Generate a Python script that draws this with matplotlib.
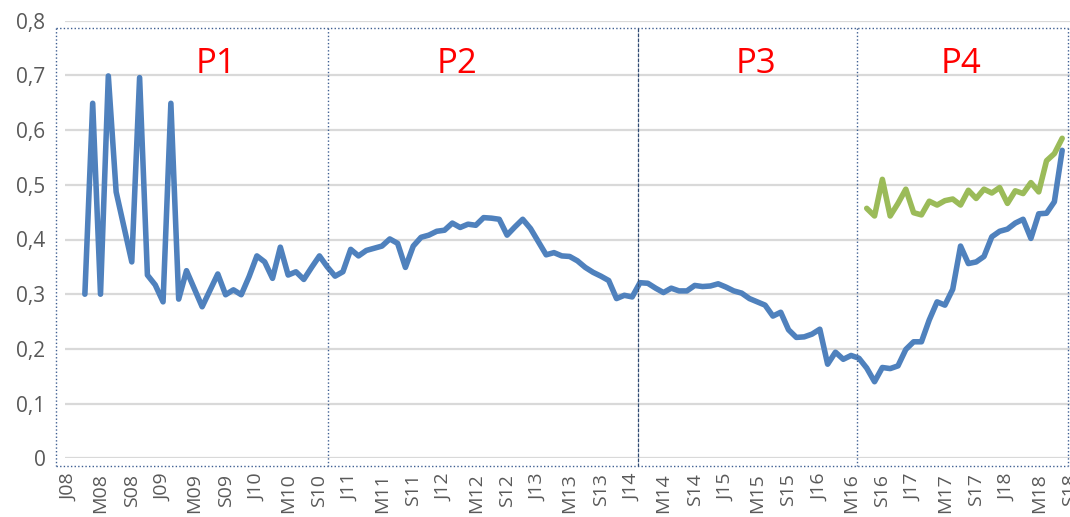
import matplotlib
matplotlib.use("Agg")
import matplotlib.pyplot as plt
from matplotlib.lines import Line2D
import numpy as np

# ---- data (monthly, starting March 2008) ----
blue_values = [
    0.300, 0.649, 0.300, 0.699, 0.487, 0.423, 0.359, 0.696, 0.335, 0.317,
    0.286, 0.649, 0.291, 0.343, 0.310, 0.277, 0.307, 0.337, 0.299, 0.308,
    0.299, 0.332, 0.370, 0.359, 0.329, 0.386, 0.335, 0.341, 0.327, 0.349,
    0.370, 0.350, 0.333, 0.341, 0.382, 0.370, 0.380, 0.384, 0.388, 0.401,
    0.393, 0.349, 0.388, 0.404, 0.408, 0.415, 0.417, 0.430, 0.422, 0.428,
    0.426, 0.440, 0.439, 0.437, 0.408, 0.423, 0.437, 0.420, 0.396, 0.372,
    0.376, 0.370, 0.369, 0.361, 0.349, 0.340, 0.333, 0.325, 0.292, 0.298,
    0.295, 0.321, 0.320, 0.311, 0.303, 0.311, 0.306, 0.306, 0.316, 0.314,
    0.315, 0.319, 0.313, 0.306, 0.302, 0.292, 0.286, 0.280, 0.260, 0.267,
    0.235, 0.221, 0.222, 0.227, 0.236, 0.172, 0.194, 0.181, 0.188, 0.183,
    0.165, 0.140, 0.166, 0.164, 0.169, 0.199, 0.213, 0.213, 0.253, 0.286,
    0.280, 0.309, 0.388, 0.356, 0.359, 0.369, 0.405, 0.415, 0.419, 0.430,
    0.437, 0.402, 0.447, 0.448, 0.469, 0.563,
]
green_start = 100
green_values = [
    0.457, 0.443, 0.510, 0.443, 0.466, 0.492, 0.449, 0.445, 0.470, 0.463,
    0.471, 0.474, 0.463, 0.490, 0.475, 0.492, 0.485, 0.495, 0.466, 0.489,
    0.484, 0.504, 0.487, 0.544, 0.557, 0.585,
]
years = [f"{y:02d}" for y in range(8, 19)]
tick_labels = [m + y for y in years for m in ("J", "M", "S")]
y_ticks = [0, 0.1, 0.2, 0.3, 0.4, 0.5, 0.6, 0.7, 0.8]
y_tick_labels = ["0", "0,1", "0,2", "0,3", "0,4", "0,5", "0,6", "0,7", "0,8"]
period_labels = ["P1", "P2", "P3", "P4"]

# ---- figure ----
W, H = 1070, 517
fig = plt.figure(figsize=(W / 100, H / 100), dpi=100)
fig.patch.set_facecolor("white")

# axes placement in pixels
ax_left, ax_right = 65, 1070
ax_top, ax_bottom = 20.7, 458.3
ax = fig.add_axes([ax_left / W, 1 - ax_bottom / H,
                   (ax_right - ax_left) / W, (ax_bottom - ax_top) / H])

step = 7.87
x0_px = 85
xlim = ((ax_left - x0_px) / step, (ax_right - x0_px) / step)
ax.set_xlim(*xlim)
ax.set_ylim(0, 0.8)

bx = np.arange(len(blue_values))
gx = np.arange(green_start, green_start + len(green_values))

for s in ax.spines.values():
    s.set_visible(False)
ax.set_yticks(y_ticks)
ax.set_yticklabels(y_tick_labels)
ax.yaxis.grid(True, color="#D9D9D9", linewidth=1.6)
ax.set_axisbelow(True)
ax.tick_params(axis="y", length=0, pad=14, labelsize=15, labelcolor="#595959")

tick_pos = [4 * j - 2 for j in range(len(tick_labels))]
ax.set_xticks(tick_pos)
ax.set_xticklabels(tick_labels, rotation=90, va="top", ha="center")
ax.tick_params(axis="x", length=0, pad=11, labelsize=14, labelcolor="#595959")
for lbl in ax.get_xticklabels() + ax.get_yticklabels():
    lbl.set_fontfamily("Open Sans")
    lbl.set_clip_on(False)

ax.plot(bx, blue_values, color="#4F81BD", linewidth=4.0,
        solid_joinstyle="round", solid_capstyle="round", clip_on=False, zorder=3)
ax.plot(gx, green_values, color="#9BBB59", linewidth=4.0,
        solid_joinstyle="round", solid_capstyle="round", clip_on=False, zorder=4)

# period labels
period_x_px = [217, 460, 760, 967]
for lab, px in zip(period_labels, period_x_px):
    ax.text((px - x0_px) / step, 0.72, lab, color="#FF0000", fontsize=25,
            fontfamily="Open Sans", ha="center", va="center")

# dotted boxes (drawn shapes)
def fx(p):
    return p / W

def fy(p):
    return 1 - p / H

box_col = "#3F5F92"
ls = (0, (1, 1.6))
left, right, top, bottom = 55.5, 1068, 28.3, 466
for (xa, ya, xb, yb) in [(left, top, right, top), (left, bottom, right, bottom),
                         (left, top, left, bottom), (right, top, right, bottom),
                         (328.3, top, 328.3, bottom), (857.3, top, 857.3, bottom)]:
    fig.add_artist(Line2D([fx(xa), fx(xb)], [fy(ya), fy(yb)], color=box_col,
                          linewidth=1.0, linestyle=ls, transform=fig.transFigure))
fig.add_artist(Line2D([fx(637.5), fx(637.5)], [fy(top), fy(bottom)], color="#2F4A73",
                      linewidth=0.9, linestyle=(0, (3, 1)), transform=fig.transFigure))

fig.savefig("out.png", dpi=100, facecolor="white")
